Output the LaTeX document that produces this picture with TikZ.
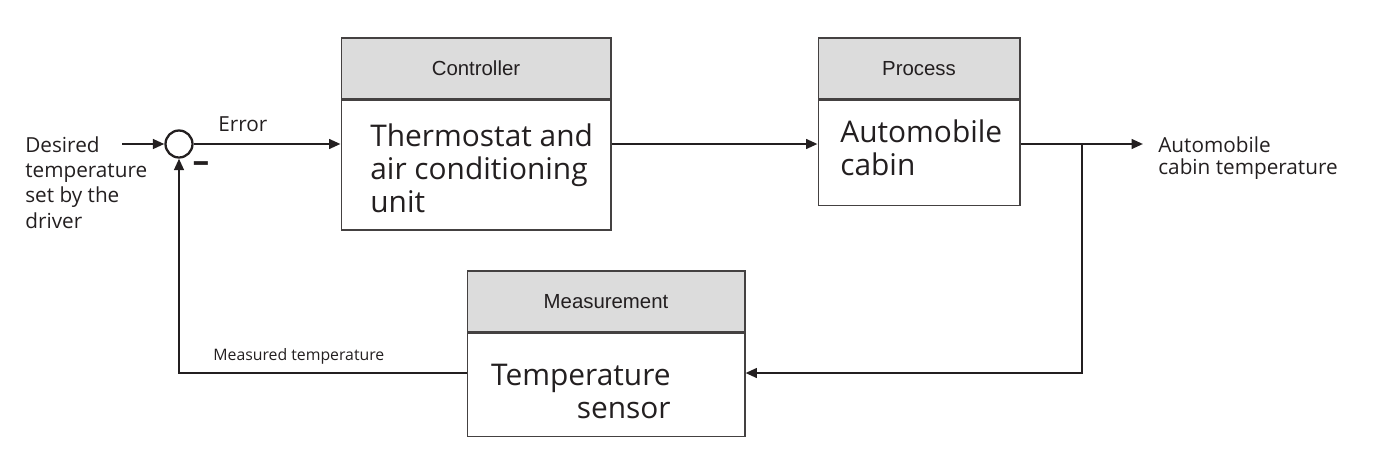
\documentclass[tikz,border=0pt]{standalone}
\usepackage{fontspec}
\setmainfont{Liberation Sans}
\newfontfamily\myriad{Open Sans}
\usetikzlibrary{positioning,arrows.meta}
\definecolor{ink}{HTML}{231F20}
\definecolor{headgray}{HTML}{DCDCDC}
\tikzset{
  head/.style={draw=ink!85, fill=headgray, line width=0.6pt, inner sep=0pt,
    text=ink, font=\fontsize{11.6}{13}\selectfont},
  body/.style={draw=ink!85, fill=white, line width=0.6pt, inner sep=0pt},
  big/.style={font=\myriad\fontsize{17}{18.7}\selectfont, inner sep=0pt, text=ink},
  lbl/.style={font=\myriad\fontsize{11.8}{14.3}\selectfont, inner sep=0pt, text=ink},
  wire/.style={draw=ink, line width=1.3pt},
  sig/.style={wire, -{Triangle[length=6.5pt,width=5.5pt]}},
}
\begin{document}
\begin{tikzpicture}[x=0.02cm, y=-0.02cm]
\useasboundingbox (0,0) rectangle (1376,463);

% summing junction
\node[circle, draw=ink, line width=1.3pt, minimum size=0.54cm, inner sep=0pt] (sum) at (179,144) {};
\node[lbl, font=\myriad\bfseries\fontsize{19}{19}\selectfont] (minus) at (201,167) {–};

% controller
\node[head, minimum width=5.4cm, minimum height=1.22cm] (ctrlhead) at (476,68.5) {Controller};
\node[body, below=0pt of ctrlhead, minimum width=5.4cm, minimum height=2.6cm] (ctrl) {};
\node[big, align=left, anchor=base west] (ctrltext) at (370,212) {Thermostat and\\air conditioning\\unit};

% process
\node[head, minimum width=4.04cm, minimum height=1.22cm] (prochead) at (919,68.5) {Process};
\node[body, below=0pt of prochead, minimum width=4.04cm, minimum height=2.1cm] (proc) {};
\node[big, align=left, anchor=base west] (proctext) at (840,175) {Automobile\\cabin};

% measurement
\node[head, minimum width=5.56cm, minimum height=1.22cm] (senshead) at (606,301.5) {Measurement};
\node[body, below=0pt of senshead, minimum width=5.56cm, minimum height=2.06cm] (sens) {};
\node[big, align=right, anchor=base east] (senstext) at (671,418) {Temperature\\sensor};

% labels
\node[lbl, align=left, anchor=base west] (desired) at (25,228) {Desired\\temperature\\set by the\\driver};
\node[lbl, anchor=base west] (error) at (218,131.5) {Error};
\node[lbl, align=left, anchor=base west, font=\myriad\fontsize{11.8}{12.5}\selectfont] (output) at (1158,174) {Automobile\\cabin temperature};
\node[lbl, anchor=base west, font=\myriad\fontsize{9}{11}\selectfont] (measured) at (213,360) {Measured temperature};

% signals
\coordinate (in) at (122,144);
\coordinate (out) at (1143,144);
\coordinate (tap) at (1082,144);
\coordinate (fb) at (1082,373);
\draw[sig] (in) -- (sum.west);
\draw[sig] (sum.east) -- (sum -| ctrl.west);
\draw[sig] (sum -| ctrl.east) -- (sum -| proc.west);
\draw[sig] (sum -| proc.east) -- (out);
\draw[sig] (tap) -- (fb) -- (fb -| sens.east);
\draw[sig] (fb -| sens.west) -- (fb -| sum) -- (sum.south);
\end{tikzpicture}
\end{document}
